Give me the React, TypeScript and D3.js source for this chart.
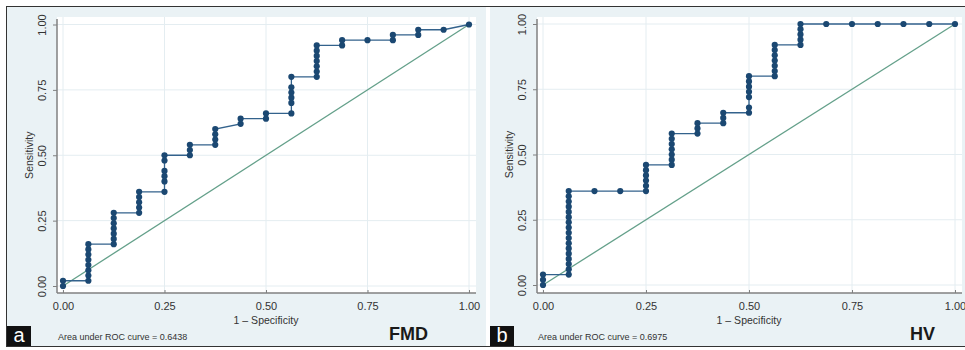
import React, { useRef, useEffect } from 'react';
import * as d3 from 'd3';

// FMD panel: points of the ROC curve (1 - specificity, sensitivity)
const fmdFpr = [
  0, 0,
  0.0625, 0.0625, 0.0625, 0.0625, 0.0625, 0.0625, 0.0625, 0.0625,
  0.125, 0.125, 0.125, 0.125, 0.125, 0.125, 0.125,
  0.1875, 0.1875, 0.1875, 0.1875, 0.1875,
  0.25, 0.25, 0.25, 0.25, 0.25, 0.25,
  0.3125, 0.3125, 0.3125,
  0.375, 0.375, 0.375, 0.375,
  0.4375, 0.4375,
  0.5, 0.5,
  0.5625, 0.5625, 0.5625, 0.5625, 0.5625, 0.5625,
  0.625, 0.625, 0.625, 0.625, 0.625, 0.625, 0.625,
  0.6875, 0.6875,
  0.75,
  0.8125, 0.8125,
  0.875, 0.875,
  0.9375,
  1
];
const fmdTpr = [
  0, 0.02,
  0.02, 0.04, 0.06, 0.08, 0.1, 0.12, 0.14, 0.16,
  0.16, 0.18, 0.2, 0.22, 0.24, 0.26, 0.28,
  0.28, 0.3, 0.32, 0.34, 0.36,
  0.36, 0.4, 0.42, 0.44, 0.48, 0.5,
  0.5, 0.52, 0.54,
  0.54, 0.56, 0.58, 0.6,
  0.62, 0.64,
  0.64, 0.66,
  0.66, 0.7, 0.72, 0.74, 0.76, 0.8,
  0.8, 0.82, 0.84, 0.86, 0.88, 0.9, 0.92,
  0.92, 0.94,
  0.94,
  0.94, 0.96,
  0.96, 0.98,
  0.98,
  1
];

// HV panel
const hvFpr = [
  0, 0, 0,
  0.0625, 0.0625, 0.0625, 0.0625, 0.0625, 0.0625, 0.0625, 0.0625, 0.0625,
  0.0625, 0.0625, 0.0625, 0.0625, 0.0625, 0.0625, 0.0625, 0.0625,
  0.125,
  0.1875,
  0.25, 0.25, 0.25, 0.25, 0.25, 0.25,
  0.3125, 0.3125, 0.3125, 0.3125, 0.3125, 0.3125, 0.3125,
  0.375, 0.375, 0.375,
  0.4375, 0.4375, 0.4375,
  0.5, 0.5, 0.5, 0.5, 0.5, 0.5, 0.5,
  0.5625, 0.5625, 0.5625, 0.5625, 0.5625, 0.5625, 0.5625,
  0.625, 0.625, 0.625, 0.625, 0.625,
  0.6875, 0.75, 0.8125, 0.875, 0.9375, 1
];
const hvTpr = [
  0, 0.02, 0.04,
  0.04, 0.06, 0.08, 0.1, 0.12, 0.14, 0.16, 0.18, 0.2,
  0.22, 0.24, 0.26, 0.28, 0.3, 0.32, 0.34, 0.36,
  0.36,
  0.36,
  0.36, 0.38, 0.4, 0.42, 0.44, 0.46,
  0.46, 0.48, 0.5, 0.52, 0.54, 0.56, 0.58,
  0.58, 0.6, 0.62,
  0.62, 0.64, 0.66,
  0.66, 0.68, 0.72, 0.74, 0.76, 0.78, 0.8,
  0.8, 0.82, 0.84, 0.86, 0.88, 0.9, 0.92,
  0.92, 0.94, 0.96, 0.98, 1,
  1, 1, 1, 1, 1, 1
];

const tickValues = [0, 0.25, 0.5, 0.75, 1];
const tickLabels = ['0.00', '0.25', '0.50', '0.75', '1.00'];

const panels = [
  {
    letter: 'a', title: 'FMD', auc: 'Area under ROC curve = 0.6438',
    fpr: fmdFpr, tpr: fmdTpr,
    bg: [7, 486], plotX: [57, 476], xr: [63, 469], yr: [286, 24.5]
  },
  {
    letter: 'b', title: 'HV', auc: 'Area under ROC curve = 0.6975',
    fpr: hvFpr, tpr: hvTpr,
    bg: [490, 965], plotX: [537, 962], xr: [543, 955], yr: [285, 24]
  }
];

const FONT = '"Liberation Sans", Arial, Helvetica, sans-serif';

const App = () => {
  const svgRef = useRef(null);

  useEffect(() => {
    const svg = d3.select(svgRef.current);
    svg.selectAll('*').remove();

    panels.forEach(p => {
      const g = svg.append('g');
      const x = d3.scaleLinear().domain([0, 1]).range(p.xr);
      const y = d3.scaleLinear().domain([0, 1]).range(p.yr);
      const plotTop = 17, axisY = 293;

      // panel background
      g.append('rect')
        .attr('x', p.bg[0]).attr('y', 7)
        .attr('width', p.bg[1] - p.bg[0]).attr('height', 339)
        .attr('fill', '#eaf2f5');

      // white plot region
      g.append('rect')
        .attr('x', p.plotX[0]).attr('y', plotTop)
        .attr('width', p.plotX[1] - p.plotX[0]).attr('height', axisY - plotTop)
        .attr('fill', '#ffffff');

      // grid
      g.selectAll('.vgrid').data(tickValues).enter().append('line')
        .attr('x1', d => x(d)).attr('x2', d => x(d))
        .attr('y1', plotTop).attr('y2', axisY)
        .attr('stroke', '#e4edf1').attr('stroke-width', 1);
      g.selectAll('.hgrid').data(tickValues).enter().append('line')
        .attr('x1', p.plotX[0]).attr('x2', p.plotX[1])
        .attr('y1', d => y(d)).attr('y2', d => y(d))
        .attr('stroke', '#e4edf1').attr('stroke-width', 1);

      // x axis
      const xAxis = d3.axisBottom(x)
        .tickValues(tickValues)
        .tickFormat((d, i) => tickLabels[i])
        .tickSizeInner(4).tickSizeOuter(0).tickPadding(3);
      const xa = g.append('g').attr('transform', `translate(0,${axisY})`).call(xAxis);
      xa.select('.domain').remove();
      xa.append('line')
        .attr('x1', p.plotX[0]).attr('x2', p.plotX[1])
        .attr('stroke', '#808080').attr('stroke-width', 1.5);
      xa.selectAll('.tick line').attr('y1', -3).attr('y2', 0).attr('stroke', '#808080');
      xa.selectAll('.tick text')
        .attr('font-family', FONT).attr('font-size', 11).attr('fill', '#333')
        .attr('y', 9).attr('dy', '0.71em');

      // y axis
      const yAxis = d3.axisLeft(y)
        .tickValues(tickValues)
        .tickFormat((d, i) => tickLabels[i])
        .tickSizeInner(4).tickSizeOuter(0);
      const ya = g.append('g').attr('transform', `translate(${p.plotX[0]},0)`).call(yAxis);
      ya.select('.domain').remove();
      ya.append('line')
        .attr('y1', plotTop + 2).attr('y2', axisY)
        .attr('stroke', '#808080').attr('stroke-width', 1.5);
      ya.selectAll('.tick line').attr('stroke', '#808080');
      ya.selectAll('.tick text')
        .attr('font-family', FONT).attr('font-size', 11).attr('fill', '#333')
        .attr('x', null).attr('dy', null)
        .attr('text-anchor', 'middle')
        .attr('transform', 'translate(-11,0) rotate(-90)');

      // axis titles
      g.append('text')
        .attr('x', (p.xr[0] + p.xr[1]) / 2).attr('y', 324)
        .attr('text-anchor', 'middle')
        .attr('font-family', FONT).attr('font-size', 10.5).attr('fill', '#333')
        .text('1 \u2013 Specificity');
      g.append('text')
        .attr('transform', `translate(${p.plotX[0] - 24},${(p.yr[0] + p.yr[1]) / 2}) rotate(-90)`)
        .attr('text-anchor', 'middle')
        .attr('font-family', FONT).attr('font-size', 10.5).attr('fill', '#333')
        .text('Sensitivity');

      // reference diagonal
      g.append('line')
        .attr('x1', x(0)).attr('y1', y(0)).attr('x2', x(1)).attr('y2', y(1))
        .attr('stroke', '#64a08a').attr('stroke-width', 1.3);

      // ROC curve
      const pts = p.fpr.map((f, i) => [f, p.tpr[i]]);
      const line = d3.line().x(d => x(d[0])).y(d => y(d[1]));
      g.append('path')
        .attr('d', line(pts))
        .attr('fill', 'none')
        .attr('stroke', '#33628c').attr('stroke-width', 1.3);
      g.selectAll('.pt').data(pts).enter().append('circle')
        .attr('cx', d => x(d[0])).attr('cy', d => y(d[1]))
        .attr('r', 3.1)
        .attr('fill', '#1b4872');

      // footer
      g.append('text')
        .attr('x', p.xr[0] - 5).attr('y', 340)
        .attr('font-family', FONT).attr('font-size', 9).attr('fill', '#333')
        .text(p.auc);
      g.append('text')
        .attr('x', p.bg[0] === 7 ? 428 : 935).attr('y', 340)
        .attr('text-anchor', 'end')
        .attr('font-family', FONT).attr('font-size', 18).attr('font-weight', 'bold')
        .attr('fill', '#1a1a1a')
        .text(p.title);

      // letter box
      g.append('rect')
        .attr('x', p.bg[0]).attr('y', 326)
        .attr('width', 24).attr('height', 20)
        .attr('fill', '#111');
      g.append('text')
        .attr('x', p.bg[0] + 12).attr('y', 342)
        .attr('text-anchor', 'middle')
        .attr('font-family', FONT).attr('font-size', 20).attr('fill', '#fff')
        .text(p.letter);
    });

    // outer frame lines
    svg.append('line').attr('x1', 7).attr('x2', 965).attr('y1', 6.5).attr('y2', 6.5)
      .attr('stroke', '#333').attr('stroke-width', 1);
    svg.append('line').attr('x1', 7).attr('x2', 965).attr('y1', 346.5).attr('y2', 346.5)
      .attr('stroke', '#333').attr('stroke-width', 1);
    svg.append('line').attr('x1', 6.5).attr('x2', 6.5).attr('y1', 6).attr('y2', 347)
      .attr('stroke', '#333').attr('stroke-width', 1);
  }, []);

  return (
    <svg
      ref={svgRef}
      width={965}
      height={350}
      style={{ position: 'absolute', left: 0, top: 0, background: '#fff' }}
    />
  );
};

export default App;
